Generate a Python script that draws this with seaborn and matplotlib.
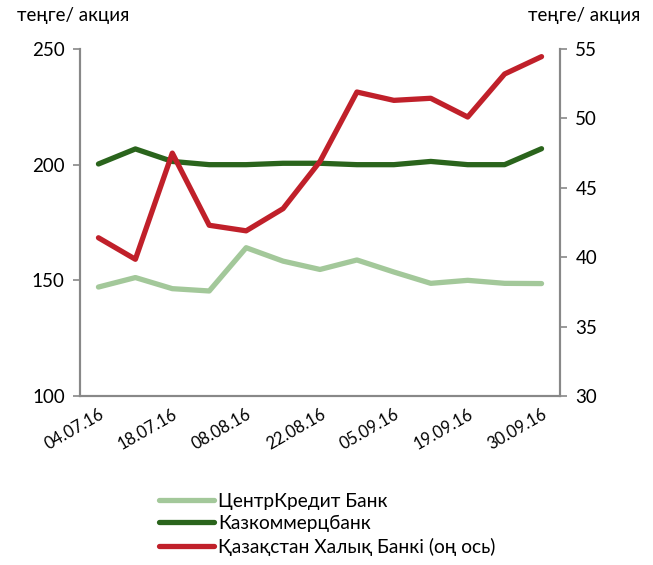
import matplotlib
matplotlib.use("Agg")
import matplotlib.pyplot as plt
import seaborn as sns
import pandas as pd

# Data
dates = ["04.07.16", "11.07.16", "18.07.16", "25.07.16", "08.08.16", "15.08.16",
         "22.08.16", "29.08.16", "05.09.16", "12.09.16", "19.09.16", "26.09.16", "30.09.16"]
centrkredit = [147.1, 151.2, 146.4, 145.4, 164.1, 158.3, 154.7, 158.8, 153.6, 148.7, 150.0, 148.7, 148.6]
kazkom = [200.3, 206.8, 201.4, 200.0, 200.0, 200.6, 200.6, 200.0, 200.0, 201.4, 200.0, 200.0, 206.9]
halyk = [41.4, 39.85, 47.5, 42.3, 41.9, 43.5, 46.9, 51.9, 51.3, 51.45, 50.1, 53.2, 54.45]

names = ["ЦентрКредит Банк", "Казкоммерцбанк", "Қазақстан Халық Банкі (оң ось)"]
colors = ["#A3C89A", "#2A641C", "#C0202A"]

idx = list(range(len(dates)))
df = pd.DataFrame({"i": idx, "ck": centrkredit, "kk": kazkom, "hb": halyk})

sns.set_style("white")
plt.rcParams["font.family"] = ["Lato", "DejaVu Sans"]
plt.rcParams["text.color"] = "black"

fig = plt.figure(figsize=(6.53, 5.65), dpi=100)
ax = fig.add_axes([80 / 653, 1 - 396 / 565, 480 / 653, 347 / 565])
ax2 = ax.twinx()

lw = 3.8
sns.lineplot(data=df, x="i", y="ck", ax=ax, color=colors[0], linewidth=lw, label=names[0], legend=False)
sns.lineplot(data=df, x="i", y="kk", ax=ax, color=colors[1], linewidth=lw, label=names[1], legend=False)
sns.lineplot(data=df, x="i", y="hb", ax=ax2, color=colors[2], linewidth=lw, label=names[2], legend=False)

ax.set_ylim(100, 250)
ax.set_yticks([100, 150, 200, 250])
ax2.set_ylim(30, 55)
ax2.set_yticks([30, 35, 40, 45, 50, 55])
ax.set_xlim(-0.5, len(dates) - 0.5)

# category labels on every second point, tick marks between categories
ax.set_xticks(idx[::2])
ax.set_xticklabels([dates[i] for i in idx[::2]], rotation=30, ha="right",
                   rotation_mode="anchor", fontsize=12, color="black")
ax.set_xticks([i - 0.5 for i in range(len(dates) + 1)], minor=True)
ax.tick_params(axis="x", which="major", length=0, pad=7)
ax.tick_params(axis="x", which="minor", length=5, color="#888888", width=1.2, direction="out")

ax.set_xlabel("")
ax.set_ylabel("")
ax2.set_ylabel("")

for a in (ax, ax2):
    for s in a.spines.values():
        s.set_color("#888888")
        s.set_linewidth(1.5)
    a.spines["top"].set_visible(False)
ax.tick_params(axis="y", length=5, color="#888888", width=1.2, labelsize=13.5, pad=6,
               direction="out", left=True, labelcolor="black")
ax2.tick_params(axis="y", length=5, color="#888888", width=1.2, labelsize=13.5, pad=6,
                direction="out", right=True, labelcolor="black")
ax.grid(False)
ax2.grid(False)

fig.text(17 / 653, 1 - 15 / 565, "теңге/ акция", fontsize=13.5, va="center", ha="left")
fig.text(640 / 653, 1 - 15 / 565, "теңге/ акция", fontsize=13.5, va="center", ha="right")

h1, l1 = ax.get_legend_handles_labels()
h2, l2 = ax2.get_legend_handles_labels()
fig.legend(h1 + h2, l1 + l2, loc="upper left", bbox_to_anchor=(151 / 653, 1 - 485 / 565),
           frameon=False, fontsize=13.8, handlelength=2.9, handletextpad=0.2,
           labelspacing=0.28, borderaxespad=0)

fig.savefig("out.png", dpi=100)
